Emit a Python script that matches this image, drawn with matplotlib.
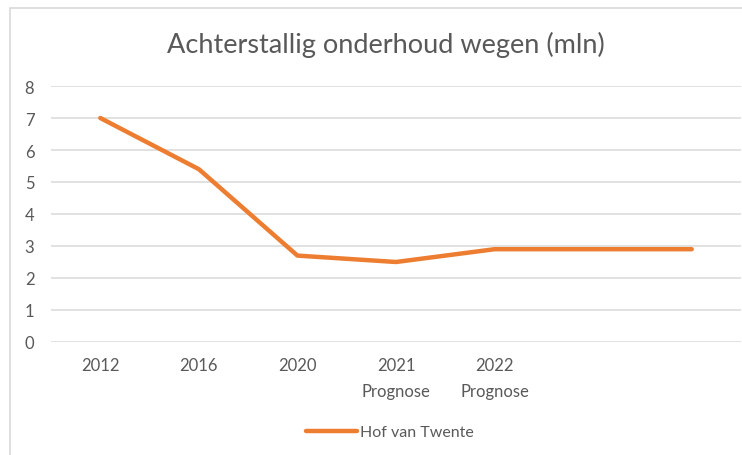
import matplotlib
matplotlib.use("Agg")
import matplotlib.pyplot as plt
from matplotlib.patches import Rectangle

categories = ["2012", "2016", "2020", "2021\nPrognose", "2022\nPrognose", "", ""]
values = [7.0, 5.4, 2.7, 2.5, 2.9, 2.9, 2.9]
series_name = "Hof van Twente"
title = "Achterstallig onderhoud wegen (mln)"

ORANGE = "#ED7D31"
GRID = "#D9D9D9"
TEXT = "#595959"

plt.rcParams["font.family"] = ["Lato", "DejaVu Sans"]

W, H = 742, 456
fig = plt.figure(figsize=(W / 100, H / 100), dpi=100)
fig.patch.set_facecolor("white")

# chart border (cropped on right/bottom in the reference)
fig.patches.append(Rectangle((10 / W, -0.1), 1.2, 1 - 9 / H + 0.1,
                             transform=fig.transFigure, fill=False,
                             edgecolor=GRID, lw=1.2))

ax = fig.add_axes([51 / W, 1 - 343 / H, 690 / W, 256 / H])
x = list(range(len(categories)))
ax.plot(x, values, color=ORANGE, lw=3.2, solid_capstyle="round",
        solid_joinstyle="round", label=series_name, zorder=3)

ax.set_xlim(-0.5, len(categories) - 0.5)
ax.set_ylim(0, 8)
ax.set_yticks(range(0, 9))
ax.set_xticks(x)
ax.set_xticklabels(categories, multialignment="center", linespacing=1.75)
ax.grid(axis="y", color=GRID, lw=1.1)
ax.set_axisbelow(True)
for s in ax.spines.values():
    s.set_visible(False)
ax.tick_params(length=0, colors=TEXT, labelsize=12)
ax.tick_params(axis="y", pad=12)
ax.tick_params(axis="x", pad=11)

fig.text(386 / W, 1 - 45 / H, title, ha="center", va="center",
         fontsize=19.5, color=TEXT)

fig.legend(loc="center", bbox_to_anchor=(390 / W, 1 - 433 / H), frameon=False,
           fontsize=11.5, labelcolor=TEXT, handlelength=3.2, handletextpad=0.2)

fig.savefig("out.png", dpi=100, facecolor="white")
